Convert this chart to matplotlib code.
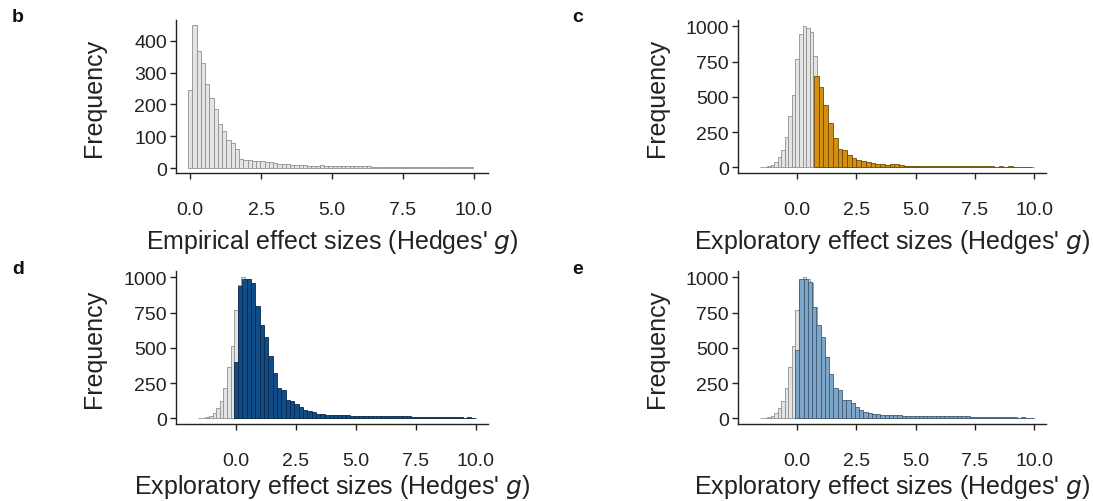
import numpy as np
import matplotlib.pyplot as plt

plt.rcParams['font.family'] = ['Liberation Sans', 'DejaVu Sans']

# panel b: empirical effect sizes, bins of 0.15 centred on 0, 0.15, 0.30 ...
emp_start, emp_width = 0.0, 0.15
emp_counts = [245, 448, 368, 329, 263, 221, 185, 140, 116, 87,
              80, 61, 29,
              27, 26, 24, 23, 24, 18, 19, 15, 14, 13, 14, 11, 10, 11, 9,
              8, 7, 8, 9, 7, 8, 7, 8, 6, 7, 8, 7, 6, 7, 6,
              5, 4, 5, 5, 4, 5, 4, 5, 4, 4, 5, 4, 5, 4, 4, 5, 4, 4, 5, 4,
              4, 4, 5, 4]

# panels c-e: all exploratory effect sizes (grey), bins of 0.15 centred on -1.5 ...
expl_start, expl_width = -1.5, 0.15
expl_counts = [3, 5, 8, 16, 35, 72, 122, 215, 366, 515, 766, 945, 1000, 985, 962, 792,
               480, 430, 330, 235, 170, 120, 95, 90, 80, 62, 50, 40, 35, 32,
               28, 26, 23, 19, 17, 16, 14, 14, 16, 12, 10, 9, 8, 8,
               5, 5, 4, 5, 5, 4, 5, 4, 5, 4, 4, 5, 4, 4, 5, 4, 4, 4, 5, 4,
               4, 4, 3, 4, 4, 3, 4, 4, 3, 4, 4, 3, 3]

# highlighted subsets (bin start, bin width, counts)
c_start, c_width = 0.8, 0.2
c_counts = [650, 572, 442, 314, 206, 132, 122, 85, 64, 50,
            44, 36, 31, 24, 22, 18, 22, 24, 14, 12,
            11, 10, 11, 9, 10, 9, 10, 8, 9, 8,
            9, 8, 7, 8, 7, 8, 7, 7, 6, 7,
            6, 7, 6, 6, 5, 6]

d_start, d_width = 0.0, 0.18
d_counts = [400, 940, 990, 985, 960, 800, 660, 575, 445, 320,
            212, 200, 130, 125, 105, 78, 62, 50, 42, 34,
            30, 26, 24, 23, 22, 21, 22, 20, 19, 18,
            19, 17, 18, 16, 18, 17, 19, 16, 17, 15,
            17, 9, 8, 9, 7, 8, 9, 7, 8, 8,
            7, 8, 7, 6, 7, 6]

e_start, e_width = 0.0, 0.18
e_counts = [482, 988, 988, 965, 793, 659, 576, 435, 318, 212,
            200, 129, 129, 106, 78, 59, 48, 40, 33, 28,
            26, 24, 22, 21, 22, 20, 19, 20, 18, 17,
            18, 16, 17, 18, 16, 17, 15, 16, 17, 15,
            16, 9, 8, 8, 7, 9, 8, 7, 8, 7,
            8, 7, 6, 7, 6, 6]

xticks = [0, 2.5, 5, 7.5, 10]
xticklabels = ['0.0', '2.5', '5.0', '7.5', '10.0']

grey_face, grey_edge = '#e4e4e4', '#8f8f8f'
orange = ('#d38f0f', '#6e4a06')
dark_blue = ('#0f4c88', '#0a2a4c')
light_blue = ('#7ea6c9', '#3f5a73')

W, H = 1093, 502
fig = plt.figure(figsize=(W / 100, H / 100), dpi=100)


def px_axes(left, top, right, bottom):
    return fig.add_axes([left / W, 1 - bottom / H, (right - left) / W, (bottom - top) / H])


def draw_bars(ax, start, width, counts, face, edge):
    centres = start + width * np.arange(len(counts))
    ax.bar(centres, counts, width=width, color=face, edgecolor=edge, linewidth=0.6)


def style(ax, xlabel, yticks, xlim, ylim, xlab_y):
    for s in ['top', 'right']:
        ax.spines[s].set_visible(False)
    for s in ['left', 'bottom']:
        ax.spines[s].set_linewidth(1.0)
        ax.spines[s].set_color('#222222')
    ax.set_xlim(*xlim)
    ax.set_ylim(*ylim)
    ax.set_xticks(xticks)
    ax.set_xticklabels(xticklabels)
    ax.set_yticks(yticks)
    ax.tick_params(axis='both', direction='out', length=4.5, width=1.0,
                   colors='#222222', labelsize=14, labelcolor='#222222')
    ax.tick_params(axis='x', pad=16)
    ax.tick_params(axis='y', pad=2)
    ax.set_xlabel(xlabel, fontsize=18, color='#222222')
    ax.set_ylabel('Frequency', fontsize=18, color='#222222')
    # label positions in pixels from the axes' left / bottom edge
    ax.xaxis.set_label_coords(0.5, -xlab_y / 153)
    ax.yaxis.set_label_coords(-70 / 312, 0.5)


expl_label = "Exploratory effect sizes (Hedges' $g$)"

# b
ax_b = px_axes(176, 21, 488, 174)
draw_bars(ax_b, emp_start, emp_width, emp_counts, grey_face, grey_edge)
style(ax_b, "Empirical effect sizes (Hedges' $g$)", [0, 100, 200, 300, 400],
      (-0.5, 10.5), (-15, 465), 54)

panels = [
    ((738, 21, 1046, 174), c_start, c_width, c_counts, orange, 54),
    ((176, 272, 488, 425), d_start, d_width, d_counts, dark_blue, 48),
    ((738, 272, 1046, 425), e_start, e_width, e_counts, light_blue, 48),
]
for box, start, width, counts, colours, xlab_y in panels:
    ax = px_axes(*box)
    draw_bars(ax, expl_start, expl_width, expl_counts, grey_face, grey_edge)
    draw_bars(ax, start, width, counts, colours[0], colours[1])
    style(ax, expl_label, [0, 250, 500, 750, 1000], (-2.5, 10.5), (-40, 1045), xlab_y)

for letter, x, y in [('b', 18, 18), ('c', 578, 18), ('d', 18, 270), ('e', 578, 270)]:
    fig.text(x / W, 1 - y / H, letter, fontsize=14, fontweight='bold',
             ha='center', va='center', color='#111111')

fig.savefig('out.png', dpi=100)
